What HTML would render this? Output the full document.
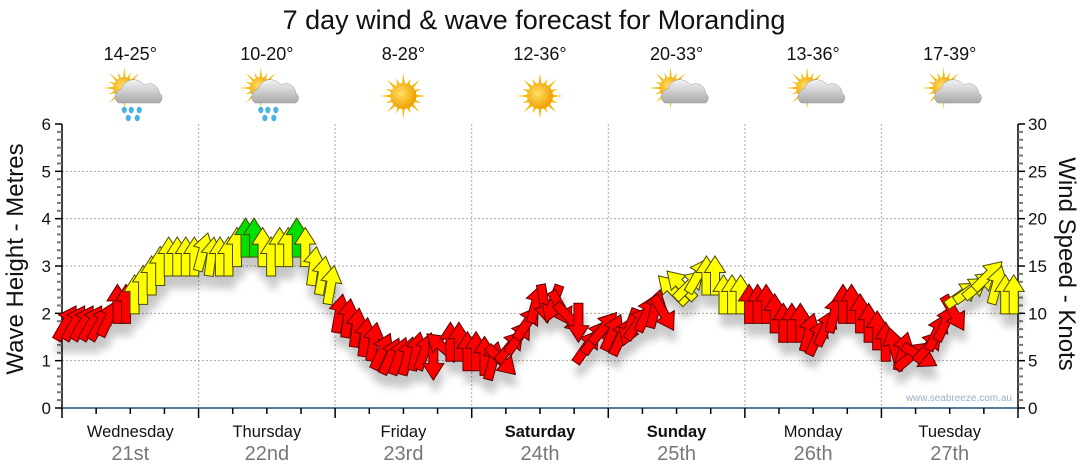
<!DOCTYPE html>
<html><head><meta charset="utf-8"><style>
html,body{margin:0;padding:0;background:#fff;}
svg{display:block;font-family:"Liberation Sans",Arial,sans-serif;}
</style></head><body>
<svg id="chart" width="1080" height="475" viewBox="0 0 1080 475" xmlns="http://www.w3.org/2000/svg">
<defs>
<filter id="shadow" x="-20%" y="-20%" width="140%" height="160%">
<feGaussianBlur in="SourceAlpha" stdDeviation="4"/>
<feOffset dx="2" dy="12" result="b"/>
<feComponentTransfer><feFuncA type="linear" slope="0.22"/></feComponentTransfer>
<feMerge><feMergeNode/><feMergeNode in="SourceGraphic"/></feMerge>
</filter>
<radialGradient id="sunG" cx="40%" cy="40%" r="60%"><stop offset="0" stop-color="#ffe066"/><stop offset="1" stop-color="#f0a000"/></radialGradient>
<linearGradient id="cloudG" x1="0" y1="0" x2="0" y2="1"><stop offset="0" stop-color="#f4f4f4"/><stop offset="1" stop-color="#a8a8a8"/></linearGradient>
</defs>
<text x="534" y="29" font-size="27" text-anchor="middle" fill="#111">7 day wind &amp; wave forecast for Moranding</text>
<g id="grid"></g>
<g id="axes"></g>
<g id="icons"></g>
<g id="arrows" filter="url(#shadow)"></g>
<text x="1012" y="401" font-size="10" text-anchor="end" fill="#9ab0c4">www.seabreeze.com.au</text>
<text transform="translate(23,259) rotate(-90)" font-size="24" text-anchor="middle" fill="#111">Wave Height - Metres</text>
<text transform="translate(1059,264) rotate(90)" font-size="24" text-anchor="middle" fill="#111">Wind Speed - Knots</text>
</svg>
<script>
// ---- data ----
const days = ["Wednesday","Thursday","Friday","Saturday","Sunday","Monday","Tuesday"];
const dates = ["21st","22nd","23rd","24th","25th","26th","27th"];
const boldDays = [false,false,false,true,true,false,false];
const temps = ["14-25°","10-20°","8-28°","12-36°","20-33°","13-36°","17-39°"];
const weather = ["rain","rain","sun","sun","cloud","cloud","cloud"];
const leftTicks = [0,1,2,3,4,5,6];
const rightTicks = [0,5,10,15,20,25,30];
// wind speed (knots), 16 readings per day
const windSpeed = [
 9,9,9,9,9,9.5,11,11,12,13,14,15,16,16,16,16,
 16.5,16,16,16,17,18,18,17,16,17,17,18,17,15,14,13,
 10,9.5,8.5,7.5,7,6,5.5,5.5,5.5,6,6,5,6.5,7,7,6,
 6,5.5,5,5,6.5,7.5,9,11,11,11,10.5,9.5,9,6.5,7.5,8.5,
 8,7.5,8.5,9,10,10.5,10,12.5,13,13,14,14,14,12,12,12,
 11,11,11,10,9,9,9,8,7.5,8.5,10,11,11,10,9,8.2,
 7,6.5,6,5.5,5.5,6.5,8,9,10,12,12.5,13,14,13,12,12
];
// wind direction arrow points toward (degrees clockwise from up)
const windDir = [
 30,30,30,30,30,25,0,0,0,0,0,0,0,0,0,0,
 15,8,0,0,0,0,0,0,0,0,0,0,0,8,10,10,
 10,8,8,8,10,25,25,20,15,12,20,180,-50,0,0,0,
 0,0,15,135,40,35,35,15,170,200,150,135,180,35,35,40,
 25,25,200,35,25,15,150,-45,-45,45,30,0,0,0,0,0,
 0,0,0,0,0,0,0,15,25,25,15,0,0,0,0,0,
 0,-15,15,50,120,40,25,25,150,55,55,50,45,15,0,0
];
// ---- scales ----
const X0=62, X1=1018, Y0=408, Y6=124;
const dayW=(X1-X0)/7;
const perDay=16;
const xIdx=i=>X0+(i+0.5)*dayW/perDay;
const yM=m=>Y0-(m/6)*(Y0-Y6);
const yK=k=>yM(k/5);
const NS="http://www.w3.org/2000/svg";
function mk(tag,attrs,parent){const e=document.createElementNS(NS,tag);for(const k in attrs)e.setAttribute(k,attrs[k]);parent.appendChild(e);return e;}
const grid=document.getElementById('grid'), axes=document.getElementById('axes'), icons=document.getElementById('icons'), arrows=document.getElementById('arrows');
// grid
leftTicks.forEach(v=>{ if(v>0&&v<6){const l=mk('line',{x1:X0,x2:X1,y1:yM(v),y2:yM(v),stroke:'#aaa','stroke-dasharray':'2,2'},grid);

}});
for(let d=1;d<7;d++){const l=mk('line',{x1:X0+d*dayW,x2:X0+d*dayW,y1:Y6,y2:Y0,stroke:'#aaa','stroke-dasharray':'2,2'},grid);

}
// axes
const la=mk('line',{x1:X0,x2:X0,y1:Y6,y2:Y0+1,stroke:'#000','stroke-width':1.5},axes);


const ra=mk('line',{x1:X1,x2:X1,y1:Y6,y2:Y0+1,stroke:'#000','stroke-width':1.5},axes);


const xa=mk('line',{x1:X0,x2:X1,y1:Y0,y2:Y0,stroke:'#1d4f7a','stroke-width':1.5},axes);


for(let j=0;j<=36;j++){const y=Y0-j*(Y0-Y6)/36;const major=j%6===0;
 mk('line',{x1:X0-(major?7:5),x2:X0,y1:y,y2:y,stroke:major?'#000':'#777','stroke-width':major?1.5:2},axes);
 mk('line',{x1:X1,x2:X1+(major?7:5),y1:y,y2:y,stroke:major?'#000':'#777','stroke-width':major?1.5:2},axes);}
leftTicks.forEach(v=>{const t=mk('text',{x:51,y:yM(v)+6,'font-size':17,'text-anchor':'end',fill:'#111'},axes);t.textContent=v;

});
rightTicks.forEach(v=>{const t=mk('text',{x:1028,y:yK(v)+6,'font-size':17,'text-anchor':'start',fill:'#111'},axes);t.textContent=v;

});
for(let q=0;q<=28;q++){const x=X0+q*dayW/4;const major=q%4===0;mk('line',{x1:x,x2:x,y1:Y0,y2:Y0+(major?10:6),stroke:'#000','stroke-width':1.5},axes);}
days.forEach((d,i)=>{const cx=X0+(i+0.5)*dayW;
 const t=mk('text',{x:cx,y:437,'font-size':16.5,'text-anchor':'middle',fill:'#111','font-weight':boldDays[i]?'bold':'normal'},axes);t.textContent=d;
 
 
 const t2=mk('text',{x:cx,y:460,'font-size':20,'text-anchor':'middle',fill:'#777'},axes);t2.textContent=dates[i];
 
 
 const t3=mk('text',{x:cx,y:60,'font-size':18,'text-anchor':'middle',fill:'#111'},icons);t3.textContent=temps[i];
 
 
 // icon
 const g=mk('g',{},icons);
 
 
 const sun=weather[i]==='sun';
 const sx=sun?cx:cx-6, sy=sun?96:88, r=sun?13:11;
 for(let a=0;a<16;a++){const ang=a*Math.PI/8, len=(a%2?r+6:r+10);
  mk('polygon',{points:`${sx+Math.cos(ang-0.12)*(r-1)},${sy+Math.sin(ang-0.12)*(r-1)} ${sx+Math.cos(ang)*len},${sy+Math.sin(ang)*len} ${sx+Math.cos(ang+0.12)*(r-1)},${sy+Math.sin(ang+0.12)*(r-1)}`,fill:'#f5b800'},g);}
 mk('circle',{cx:sx,cy:sy,r:r,fill:'url(#sunG)'},g);
 if(!sun){
  mk('path',{d:`M${cx-12},103 a8,8 0 0 1 3,-14 a13,13 0 0 1 23,-4 a10,10 0 0 1 15,8 a6,6 0 0 1 0,10 z`,fill:'url(#cloudG)',stroke:'#999','stroke-width':0.5},g);
  if(weather[i]==='rain'){[[-6,110],[1,110],[9,110],[-2,118],[7,118]].forEach(p=>mk('ellipse',{cx:cx+p[0],cy:p[1],rx:2.6,ry:3.2,fill:'#4ab0e8'},g));}
 }
});
// arrows
const shape="0,-19.5 10.5,-3 4.5,-3 4.5,19.5 -4.5,19.5 -4.5,-3 -10.5,-3";
windSpeed.forEach((k,i)=>{
 const fill=k<12?'#ff0000':(k<18?'#ffff00':'#00e000');
 const stroke=k<12?'#5a0000':'#4a4a00';
 const p=mk('polygon',{points:shape,fill:fill,stroke:stroke,'stroke-width':1,transform:`translate(${xIdx(i)},${yK(k)}) rotate(${windDir[i]})`},arrows);
 
 
});
</script>
</body></html>
